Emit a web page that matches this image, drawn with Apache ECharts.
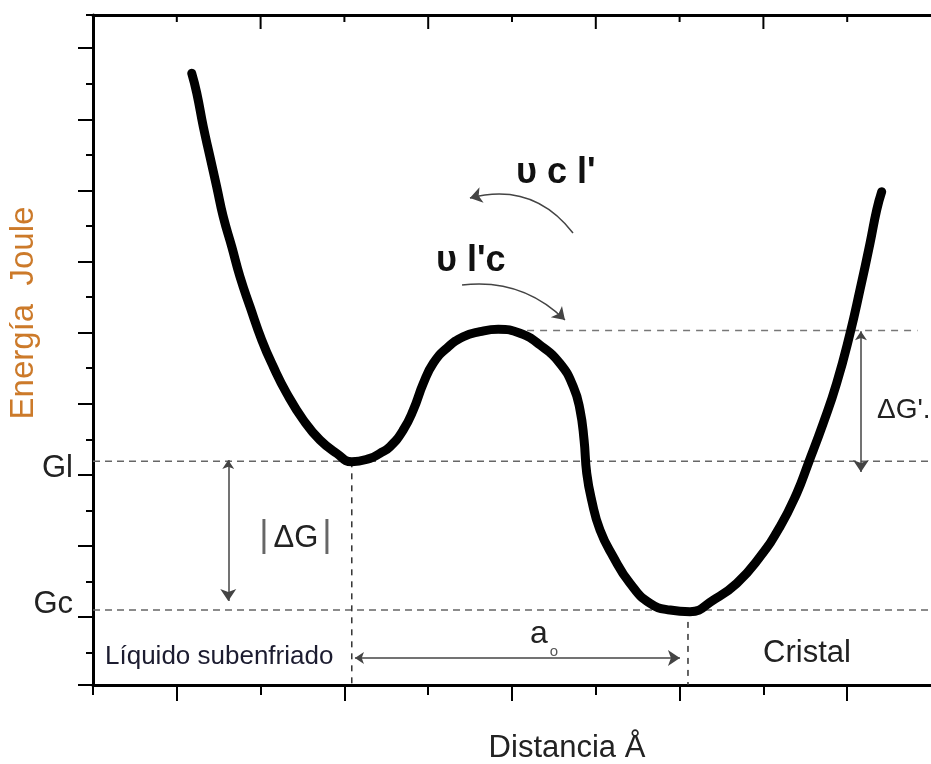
<!DOCTYPE html>
<html><head><meta charset="utf-8">
<script src="https://cdn.jsdelivr.net/npm/echarts@6.0.0/dist/echarts.min.js"></script>
<style>html,body{margin:0;padding:0;background:#fff}#c{width:931px;height:764px}</style>
</head><body><div id="c"></div>
<script>
// ---- data ----
const distance = [1.089,1.119,1.158,1.198,1.238,1.277,1.328,1.377,1.437,1.507,1.576,1.656,1.755,1.854,1.954,2.044,2.153,2.212,2.272,2.351,2.411,2.471,2.530,2.610,2.709,2.809,2.918,3.048,3.167,3.286,3.366,3.406,3.430,3.446,3.475,3.525,3.604,3.704,3.823,3.943,4.062,4.201,4.341,4.480,4.599,4.699,4.768,4.857,4.937,5.017,5.076,5.136,5.176,5.206];
const energy = [8.647,8.370,7.896,7.474,7.052,6.630,6.208,5.786,5.364,4.896,4.520,4.146,3.771,3.489,3.302,3.184,3.232,3.302,3.395,3.630,3.911,4.287,4.568,4.779,4.942,5.013,5.046,4.990,4.826,4.568,4.239,3.911,3.489,3.021,2.646,2.224,1.848,1.474,1.193,1.098,1.075,1.239,1.474,1.848,2.270,2.740,3.162,3.724,4.287,4.990,5.599,6.256,6.724,6.982];
const levelGl = 3.19;
const levelGc = 1.10;
const levelBarrier = 5.03;
const xLiquidMin = 2.044;
const xCrystalMin = 4.05;
const barrierLineFrom = 3.09;
const barrierLineTo = 5.42;
const xMin = 0.5, xMax = 5.5, yMin = 0.044, yMax = 9.467;
const yMajorTicks = [0.044,1,2,3,4,5,6,7,8,9];
const yMinorTicks = [0.5,1.5,2.5,3.5,4.5,5.5,6.5,7.5,8.5,9.467];
const yTickLabels = {1:'Gc', 3:'Gl'};
const xBottomMajor = [1,2,3,4,5];
const xBottomMinor = [0.5,1.5,2.5,3.5,4.5];
const xTopMajor = [1.5,2.5,3.5,4.5];
const xTopMinor = [1,2,3,4,5];
// annotation arrows (data coordinates)
const arrowDeltaG = [[1.307,3.208],[1.307,1.225]];
const arrowDeltaGPrime = [[5.082,5.02],[5.082,3.04]];
const arrowA0 = [[2.063,0.423],[4.002,0.423]];
const arrowCL = [[3.364,6.401],[2.749,6.893]];
const arrowLC = [[2.702,5.669],[3.316,5.177]];

const FONT = '"Liberation Sans", Arial, sans-serif';
const curve = distance.map((x,i)=>[x, energy[i]]);
const GRID = {left:93, right:0, top:15, bottom:79, containLabel:false};

function xAxisDef(grid, pos, ticks, len, inside, showLine){
  return {type:'value', gridIndex:grid, position:pos, min:xMin, max:xMax,
    axisLine:{show:showLine, onZero:false, lineStyle:{color:'#000', width:3}},
    axisTick:{show:true, customValues:ticks, length:len, inside:inside, lineStyle:{color:'#000', width:2}},
    axisLabel:{show:false}, splitLine:{show:false}};
}
function dashed(points, color, dash){
  return {type:'line', data:points, symbol:'none', silent:true, z:2,
    lineStyle:{color:color, width:1.5, type:dash}};
}
// top frame ticks, placed through the x scale at the top of the frame, pointing inward
function topTicks(values, len){
  return {type:'custom', silent:true, z:8, clip:false,
    data:values.map(v=>[v, yMax]),
    encode:{x:0, y:1},
    renderItem:function(params, api){
      const p = api.coord([api.value(0), api.value(1)]);
      return {type:'line', shape:{x1:p[0], y1:p[1], x2:p[0], y2:p[1]+len},
        style:{stroke:'#000', lineWidth:2}};
    }};
}
function txt(x,y,text,font,color,align,rot){
  const el = {type:'text', x:x, y:y, z:100, style:{
    text:text, font:font, fill:color, align:align||'center', verticalAlign:'middle',
    textAlign:align||'center', textVerticalAlign:'middle'}};
  if (rot) el.rotation = rot;
  return el;
}
const f = (s,b)=> (b?'bold ':'') + s + 'px ' + FONT;

const chart = echarts.init(document.getElementById('c'), null, {renderer:'canvas'});
chart.setOption({
  backgroundColor:'#fff',
  animation:false,
  grid:[Object.assign({}, GRID), Object.assign({}, GRID)],
  xAxis:[
    xAxisDef(0, 'bottom', xBottomMajor, 16, false, true),
    {type:'value', gridIndex:0, position:'top', min:xMin, max:xMax,
      axisLine:{show:true, onZero:false, lineStyle:{color:'#000', width:3}},
      axisTick:{show:false}, minorTick:{show:false},
      axisLabel:{show:false}, splitLine:{show:false}},
    xAxisDef(1, 'bottom', xBottomMinor, 10, false, false)
  ],
  yAxis:[
    {type:'value', gridIndex:0, position:'left', min:yMin, max:yMax,
      axisLine:{show:true, onZero:false, lineStyle:{color:'#000', width:3}},
      axisTick:{show:true, customValues:yMajorTicks, length:15, lineStyle:{color:'#000', width:2}},
      axisLabel:{show:true, customValues:[1,3], margin:20,
        formatter:function(v){ const k = Math.round(v); return k===1 ? '{gc|'+yTickLabels[k]+'}' : '{gl|'+yTickLabels[k]+'}'; },
        rich:{
          gc:{fontSize:31, fontFamily:FONT, color:'#222', padding:[0,0,26,0]},
          gl:{fontSize:31, fontFamily:FONT, color:'#222', padding:[0,0,12,0]}
        }},
      splitLine:{show:false}},
    {type:'value', gridIndex:1, position:'left', min:yMin, max:yMax,
      axisLine:{show:false, onZero:false},
      axisTick:{show:true, customValues:yMinorTicks, length:7, lineStyle:{color:'#000', width:2}},
      axisLabel:{show:false}, splitLine:{show:false}}
  ],
  series:[
    dashed([[xMin,levelGl],[xMax,levelGl]], '#666', [7,5]),
    dashed([[xMin,levelGc],[xMax,levelGc]], '#666', [7,5]),
    dashed([[barrierLineFrom,levelBarrier],[barrierLineTo,levelBarrier]], '#777', [7,6]),
    dashed([[xLiquidMin,levelGl],[xLiquidMin,yMin]], '#333', [6,6]),
    dashed([[xCrystalMin,levelGc],[xCrystalMin,yMin]], '#333', [6,6]),
    topTicks(xTopMajor, 14),
    topTicks(xTopMinor, 7),
    {type:'line', name:'Energía', data:curve, smooth:0.5, symbol:'none', z:5,
      lineStyle:{color:'#000', width:9, cap:'round', join:'round'}},
    {type:'lines', coordinateSystem:'cartesian2d', z:6, symbol:['arrow','arrow'], symbolSize:[9,12],
      lineStyle:{color:'#444', width:1.5, opacity:1, curveness:0},
      data:[{coords:arrowDeltaG},{coords:arrowDeltaGPrime},{coords:arrowA0}]},
    {type:'lines', coordinateSystem:'cartesian2d', z:6, symbol:['none','arrow'], symbolSize:[9,12],
      lineStyle:{color:'#444', width:1.5, opacity:1},
      data:[{coords:arrowCL, lineStyle:{curveness:-0.33}},{coords:arrowLC, lineStyle:{curveness:0.24}}]}
  ],
  graphic:[
    txt(24,313,'Energía  Joule',f(33),'#cc7a2a','center',Math.PI/2),
    txt(567,748,'Distancia Å',f(31),'#222'),
    txt(807,653,'Cristal',f(31),'#222'),
    txt(105,657,'Líquido subenfriado',f(26),'#1c1c30','left'),
    txt(539,634,'a',f(32),'#222'),
    txt(554,652,'o',f(15),'#555'),
    txt(264,536,'|',f(36),'#666'),
    txt(296,538,'ΔG',f(31),'#222'),
    txt(327,536,'|',f(36),'#666'),
    txt(877,410,"ΔG'.",f(28),'#222','left'),
    txt(516,173,"υ c l'",f(36,true),'#111','left'),
    txt(436,261,"υ l'c",f(36,true),'#111','left')
  ]
});
</script></body></html>
